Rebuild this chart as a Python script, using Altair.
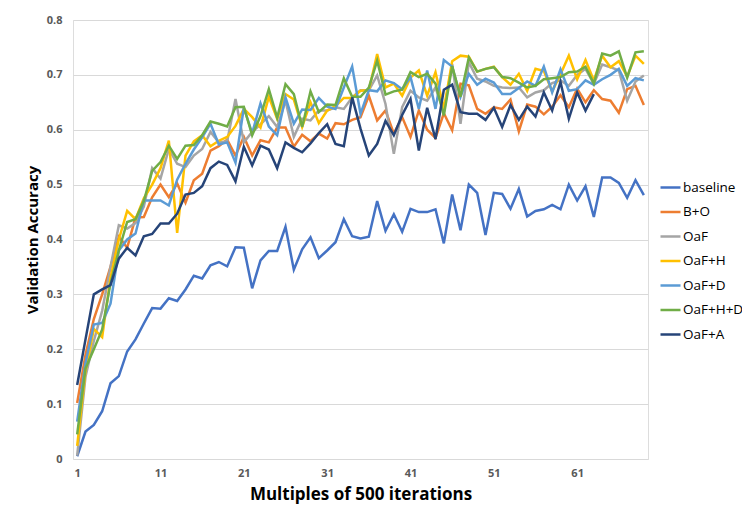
import altair as alt
import pandas as pd

series_names = ["baseline", "B+O", "OaF", "OaF+H", "OaF+D", "OaF+H+D", "OaF+A"]
series_colors = ["#4472C4", "#ED7D31", "#A5A5A5", "#FFC000", "#5B9BD5", "#70AD47", "#264478"]

baseline = [0.005, 0.05, 0.062, 0.087, 0.138, 0.151, 0.196, 0.218, 0.247, 0.275,
            0.274, 0.293, 0.288, 0.309, 0.334, 0.329, 0.353, 0.359, 0.351, 0.386,
            0.385, 0.311, 0.362, 0.379, 0.379, 0.423, 0.345, 0.382, 0.404, 0.366,
            0.380, 0.395, 0.437, 0.406, 0.402, 0.405, 0.470, 0.416, 0.446, 0.414,
            0.456, 0.450, 0.450, 0.455, 0.393, 0.482, 0.417, 0.500, 0.485, 0.408,
            0.485, 0.483, 0.456, 0.492, 0.442, 0.452, 0.455, 0.463, 0.455, 0.500,
            0.471, 0.497, 0.441, 0.513, 0.513, 0.503, 0.476, 0.508, 0.481]

b_o = [0.102, 0.19, 0.255, 0.30, 0.35, 0.405, 0.385, 0.44, 0.441, 0.477,
       0.50, 0.477, 0.502, 0.467, 0.508, 0.52, 0.562, 0.57, 0.582, 0.553,
       0.587, 0.553, 0.581, 0.577, 0.604, 0.604, 0.569, 0.591, 0.579, 0.593,
       0.584, 0.612, 0.610, 0.618, 0.623, 0.662, 0.617, 0.635, 0.593, 0.623,
       0.587, 0.635, 0.600, 0.585, 0.630, 0.599, 0.684, 0.681, 0.638, 0.629,
       0.641, 0.638, 0.655, 0.597, 0.646, 0.642, 0.628, 0.642, 0.663, 0.641,
       0.675, 0.650, 0.672, 0.656, 0.653, 0.631, 0.674, 0.680, 0.645]

oaf = [0.006, 0.15, 0.215, 0.27, 0.35, 0.426, 0.42, 0.43, 0.46, 0.53,
       0.511, 0.565, 0.538, 0.532, 0.553, 0.565, 0.596, 0.577, 0.579, 0.656,
       0.577, 0.596, 0.610, 0.625, 0.605, 0.653, 0.587, 0.620, 0.617, 0.635,
       0.635, 0.641, 0.638, 0.659, 0.672, 0.672, 0.699, 0.647, 0.556, 0.641,
       0.671, 0.659, 0.653, 0.677, 0.632, 0.720, 0.611, 0.723, 0.693, 0.688,
       0.680, 0.677, 0.676, 0.677, 0.659, 0.668, 0.672, 0.685, 0.690, 0.680,
       0.700, 0.711, 0.684, 0.719, 0.714, 0.708, 0.653, 0.688, 0.699]

oaf_h = [0.024, 0.16, 0.237, 0.222, 0.33, 0.40, 0.452, 0.437, 0.475, 0.50,
         0.53, 0.58, 0.412, 0.553, 0.579, 0.59, 0.570, 0.58, 0.587, 0.607,
         0.638, 0.623, 0.604, 0.660, 0.620, 0.665, 0.655, 0.605, 0.650, 0.612,
         0.635, 0.643, 0.658, 0.658, 0.671, 0.672, 0.738, 0.677, 0.684, 0.662,
         0.695, 0.708, 0.662, 0.705, 0.638, 0.725, 0.735, 0.733, 0.706, 0.711,
         0.715, 0.696, 0.682, 0.702, 0.671, 0.711, 0.707, 0.670, 0.701, 0.735,
         0.692, 0.727, 0.690, 0.735, 0.714, 0.725, 0.697, 0.735, 0.720]

oaf_d = [0.068, 0.175, 0.245, 0.248, 0.283, 0.38, 0.40, 0.411, 0.471, 0.471,
         0.471, 0.462, 0.509, 0.538, 0.564, 0.586, 0.611, 0.573, 0.577, 0.54,
         0.640, 0.594, 0.648, 0.606, 0.590, 0.659, 0.611, 0.637, 0.636, 0.658,
         0.642, 0.638, 0.677, 0.715, 0.629, 0.672, 0.670, 0.690, 0.685, 0.674,
         0.696, 0.638, 0.708, 0.638, 0.727, 0.715, 0.660, 0.702, 0.682, 0.693,
         0.686, 0.665, 0.665, 0.676, 0.688, 0.680, 0.715, 0.668, 0.710, 0.671,
         0.674, 0.690, 0.682, 0.692, 0.700, 0.711, 0.680, 0.694, 0.690]

oaf_h_d = [0.045, 0.165, 0.20, 0.236, 0.32, 0.38, 0.432, 0.437, 0.47, 0.525,
           0.541, 0.571, 0.547, 0.571, 0.572, 0.59, 0.615, 0.611, 0.606, 0.641,
           0.642, 0.590, 0.625, 0.674, 0.622, 0.683, 0.665, 0.605, 0.670, 0.632,
           0.646, 0.645, 0.694, 0.660, 0.660, 0.677, 0.726, 0.664, 0.670, 0.673,
           0.705, 0.696, 0.702, 0.684, 0.626, 0.716, 0.660, 0.732, 0.706, 0.711,
           0.714, 0.696, 0.694, 0.686, 0.677, 0.680, 0.692, 0.694, 0.696, 0.705,
           0.706, 0.715, 0.684, 0.739, 0.735, 0.743, 0.695, 0.741, 0.743]

oaf_a = [0.135, 0.218, 0.300, 0.309, 0.317, 0.365, 0.385, 0.371, 0.406, 0.410,
         0.429, 0.429, 0.447, 0.482, 0.485, 0.497, 0.530, 0.542, 0.536, 0.506,
         0.569, 0.535, 0.571, 0.564, 0.530, 0.577, 0.567, 0.559, 0.575, 0.594,
         0.610, 0.574, 0.570, 0.659, 0.602, 0.553, 0.574, 0.616, 0.590, 0.627,
         0.656, 0.562, 0.640, 0.583, 0.673, 0.682, 0.632, 0.629, 0.629, 0.618,
         0.640, 0.605, 0.645, 0.618, 0.642, 0.624, 0.668, 0.635, 0.687, 0.620,
         0.668, 0.635, 0.665]

all_series = [baseline, b_o, oaf, oaf_h, oaf_d, oaf_h_d, oaf_a]

rows = []
for name, vals in zip(series_names, all_series):
    for i, v in enumerate(vals):
        rows.append({"iter": i + 1, "acc": v, "series": name})
df = pd.DataFrame(rows)

x_ticks = [1, 11, 21, 31, 41, 51, 61]
y_ticks = [0, 0.1, 0.2, 0.3, 0.4, 0.5, 0.6, 0.7, 0.8]

color_scale = alt.Scale(domain=series_names, range=series_colors)

base = alt.Chart(df)

layers = []
for k, name in enumerate(series_names):
    layer = base.transform_filter(alt.datum.series == name).mark_line(
        strokeWidth=2.5, strokeJoin="miter", strokeCap="butt"
    ).encode(
        x=alt.X("iter:Q",
                scale=alt.Scale(domain=[0.5, 69.5], nice=False, zero=False),
                axis=alt.Axis(values=x_ticks, title="Multiples of 500 iterations",
                              grid=False, ticks=False, domain=False,
                              labelFont="Open Sans", labelFontSize=11, labelFontWeight="bold",
                              labelColor="#595959", labelPadding=8,
                              titleFont="Open Sans", titleFontSize=17, titleFontWeight="bold",
                              titleColor="#000000", titlePadding=8)),
        y=alt.Y("acc:Q",
                scale=alt.Scale(domain=[0, 0.8], nice=False),
                axis=alt.Axis(values=y_ticks, title="Validation Accuracy",
                              labelExpr="datum.value == 0 ? '0' : format(datum.value, '.1f')",
                              grid=True, gridColor="#D9D9D9", gridWidth=1,
                              ticks=False, domain=False,
                              labelFont="Open Sans", labelFontSize=11, labelFontWeight="bold",
                              labelColor="#595959", labelPadding=11,
                              titleFont="Open Sans", titleFontSize=15, titleFontWeight="bold",
                              titleColor="#000000", titlePadding=6)),
        color=alt.Color("series:N", scale=color_scale,
                        legend=alt.Legend(title=None, orient="none", legendX=586, legendY=156,
                                          symbolType="stroke", symbolSize=400,
                                          symbolStrokeWidth=2.5, rowPadding=6.5,
                                          labelFont="Open Sans", labelFontSize=13.5,
                                          labelColor="#000000", labelOffset=1,
                                          labelLimit=200)),
    )
    layers.append(layer)

chart = alt.layer(*layers).properties(
    width=575, height=439,
    padding={"left": 65, "top": 12, "right": 94, "bottom": 45},
    autosize=alt.AutoSizeParams(type="none"),
).configure_view(stroke=None).configure(background="#FFFFFF")

chart.save("out.html", embed_options={"renderer": "svg", "actions": False})
